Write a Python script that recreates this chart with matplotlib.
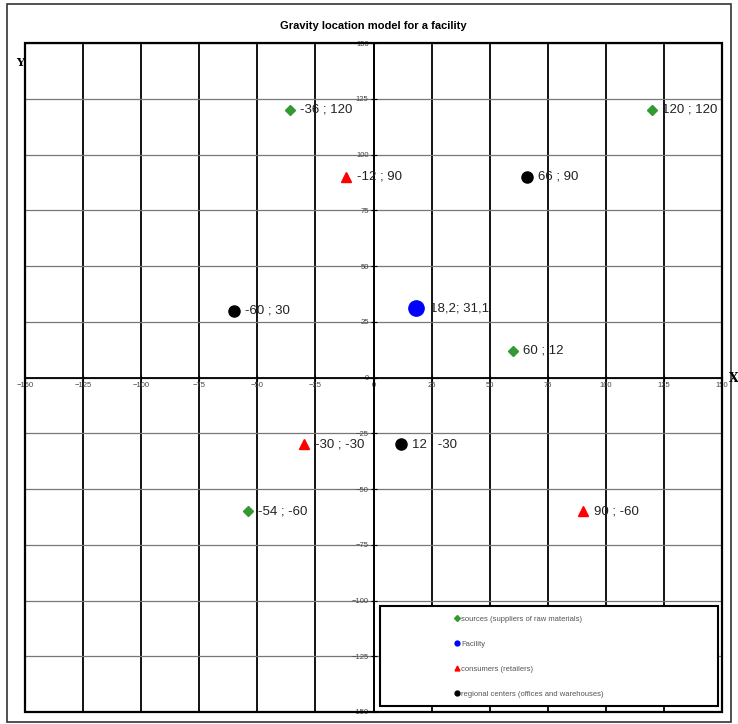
import matplotlib
matplotlib.use('Agg')
import matplotlib.pyplot as plt
from matplotlib.patches import Rectangle

# points from the gravity location model
src_x = [-36, 120, 60, -54]
src_y = [120, 120, 12, -60]
src_lbl = ['-36 ; 120', '120 ; 120', '60 ; 12', '-54 ; -60']

fac_x = [18.2]
fac_y = [31.1]
fac_lbl = ['18,2; 31,1']

con_x = [-12, -30, 90]
con_y = [90, -30, -60]
con_lbl = ['-12 ; 90', '-30 ; -30', '90 ; -60']

reg_x = [66, -60, 12]
reg_y = [90, 30, -30]
reg_lbl = ['66 ; 90', '-60 ; 30', '12 ; -30']

ticks = list(range(-150, 151, 25))

plt.rcParams['font.family'] = ['Liberation Sans', 'DejaVu Sans']

fig = plt.figure(figsize=(7.38, 7.24), dpi=100)
ax = fig.add_axes([25 / 738, 1 - 712 / 724, 697 / 738, 669 / 724])

# outer frame of the chart
fig.patches.append(Rectangle((7 / 738, 2 / 724), 724 / 738, 718 / 724, transform=fig.transFigure,
                             fill=False, edgecolor='#333333', linewidth=1.2))

ax.set_xlim(-150, 150)
ax.set_ylim(-150, 150)
ax.set_xticks(ticks)
ax.set_yticks(ticks)

for x in ticks:
    ax.axvline(x, color='black', linewidth=1.3, zorder=0)
for y in ticks:
    ax.axhline(y, color='#777777', linewidth=0.9, zorder=0)

ax.spines['left'].set_position('zero')
ax.spines['bottom'].set_position('zero')
ax.spines['top'].set_visible(False)
ax.spines['right'].set_visible(False)
for s in ['left', 'bottom']:
    ax.spines[s].set_linewidth(1.3)
ax.add_patch(Rectangle((0, 0), 1, 1, transform=ax.transAxes, fill=False,
                       edgecolor='black', linewidth=1.6, clip_on=False, zorder=3))
ax.tick_params(direction='inout', length=5, width=0.8, labelsize=5.5, labelcolor='#444444', pad=1)

ax.plot(src_x, src_y, 'D', color='#339933', markersize=5, linestyle='none',
        label='sources (suppliers of raw materials)', zorder=4)
ax.plot(fac_x, fac_y, 'o', color='blue', markersize=11, linestyle='none',
        label='Facility', zorder=4)
ax.plot(con_x, con_y, '^', color='red', markersize=7, linestyle='none',
        label='consumers (retailers)', zorder=4)
ax.plot(reg_x, reg_y, 'o', color='black', markersize=8, linestyle='none',
        label='regional centers (offices and warehouses)', zorder=4)

for xs, ys, ls, off in [(src_x, src_y, src_lbl, 7), (fac_x, fac_y, fac_lbl, 10),
                        (con_x, con_y, con_lbl, 8), (reg_x, reg_y, reg_lbl, 8)]:
    for x, y, t in zip(xs, ys, ls):
        ax.annotate(t, (x, y), xytext=(off, 0), textcoords='offset points',
                    ha='left', va='center', fontsize=9.5, color='#222222', zorder=5)

ax.set_title('Gravity location model for a facility', fontsize=8, fontweight='bold', pad=10)

fig.text(734 / 738, 1 - 378 / 724, 'X', family='DejaVu Serif', fontweight='bold',
         fontsize=9, ha='center', va='center')
fig.text(20 / 738, 1 - 63 / 724, 'Y', family='DejaVu Serif', fontweight='bold',
         fontsize=8, ha='center', va='center')

# legend box drawn separately, entries sit toward its middle
box_x0 = (380 - 25) / 697
box_y0 = (712 - 706) / 669
ax.add_patch(Rectangle((box_x0, box_y0), (718 - 380) / 697, (706 - 606) / 669,
                       transform=ax.transAxes, facecolor='white', edgecolor='black',
                       linewidth=1.5, zorder=6))
leg = ax.legend(loc='upper left', bbox_to_anchor=((453 - 25) / 697, (712 - 614) / 669),
                fontsize=5.5, handlelength=0.6, handletextpad=0.3,
                labelspacing=2.3, frameon=False, borderpad=0.2, borderaxespad=0)
leg.set_zorder(7)
for h, ms in zip(leg.legend_handles, [3, 3.5, 3.5, 3.5]):
    h.set_markersize(ms)
for t in leg.get_texts():
    t.set_color('#555555')

fig.savefig('out.png', dpi=100)
